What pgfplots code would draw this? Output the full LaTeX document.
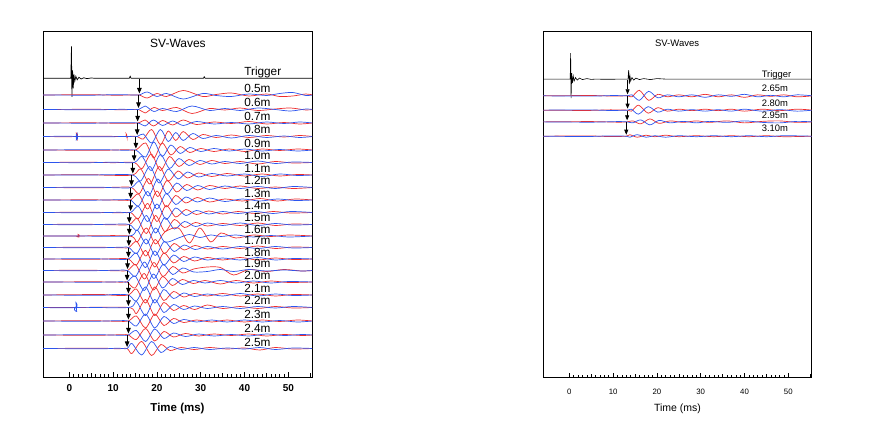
\documentclass[border=0pt]{standalone}
\usepackage{pgfplots}
\pgfplotsset{compat=1.18}
\usepackage{pgfplotstable}
\usepackage{fontspec}
\setmainfont{Liberation Sans}
\usetikzlibrary{arrows.meta}
\definecolor{cr}{RGB}{238,45,45}
\definecolor{cb}{RGB}{45,85,238}

% ---------------- left chart data (amplitudes in px, + = up) ----------------
\pgfplotstableread{
t y
-6 0
0.35 0
0.5 32
0.6 -18.5
0.75 8
0.9 -10
1.05 4
1.25 -3
1.5 2
1.8 -1.5
2.2 1
2.7 -0.7
3.3 0.5
4 -0.3
5 0.3
6 0
13.7 0
13.9 2
14.1 0
30.6 0
30.8 1.5
31 0
55.5 0
}\trigL

\pgfplotstableread{
t r b
-6 0 0
5 0.3 -0.2
10 -0.2 0.3
15.3 0 0
16.0 0 0
17.8 -3 3
20 1.5 -1.5
22.2 -1.5 1.5
26 4.5 -4
30.5 -1.5 1.5
33.5 0.5 -0.5
37 2 -1.5
41 -1 1
45 1 -0.5
48 -1.5 1.5
51 -1 2.5
54 1 -0.5
55.5 0 0
}\dA
\pgfplotstableread{
t r b
-6 0 0
6 0.2 -0.3
12 -0.3 0.2
15.8 0 0
17.3 -3.5 3.5
19.3 2 -2
21.3 -1 1
24.5 2 -2
28 -4 3.5
32 1 -1
35.5 -0.5 1
39 1.5 -1
43 -1 1.5
47 0.5 0
50.5 1.5 -1.5
54 -0.5 0.5
55.5 0 0
}\dB
\pgfplotstableread{
t r b
-6 0 0
5 0.2 -0.2
11 -0.3 0.3
15.6 0 0
17.3 3 -3
19.2 -3 3
21.3 2.5 -2.5
23.6 -2 2
26 3 -2.5
29 -1.5 1.5
33 1 -1
37 -0.5 0.5
41 1.5 -1
45 -1 1
49 0.5 -0.5
52.5 -1 1
55.5 0 0
}\dC
\pgfplotstableread{
t r b
-6 0 0
1.4 0 0
1.6 3.5 -3.5
1.8 -3 3
2.0 0 0
8 0.3 -0.3
12.8 0 0
13.0 2.5 -0.5
13.2 -1.5 0
13.4 0 0
15.5 0 0
16.9 -2.5 2.5
18.8 7 -6.5
20.8 -8 7
22.6 5.5 -5
24.3 -4 4
26 5 -4
28.2 -3 3
30.5 2 -2
33.5 -1 1
37 1.5 -1.5
41 -1 1
45 1 -1
49 -0.5 0.5
52.5 1 -1
55.5 0 0
}\dD
\pgfplotstableread{
t r b
-6 0 0
7 -0.3 0.3
13 0.3 -0.3
15.2 0 0
17.4 7 -7
19.3 -8 8
21.2 7 -6.5
23.2 -5 5
25.3 3.5 -3.5
27.5 -2.5 2.5
30 1.5 -1.5
33 -1.5 1.5
36.5 1 -1
40 -1.5 1
44 1 -1
48 -0.5 0.5
52 1 -1
55.5 0 0
}\dE
\pgfplotstableread{
t r b
-6 0 0
4 0.3 -0.2
10 -0.2 0.3
14.8 0 0
16.6 -6 6
18.7 8.5 -8
20.8 -8 8
22.9 6 -6
25 -4 4
27.3 3 -3
29.8 -2 2
32.5 2 -1.5
35.5 -1 1
39 1 -1
43 -1.5 1.5
47 1 -1
51 -0.5 0.5
55.5 0 0
}\dF
\pgfplotstableread{
t r b
-6 0 0
5 0.3 0
9 -0.3 0.3
14.5 0 0
16.3 6 -6
18.4 -9 8.5
20.5 8.5 -8
22.6 -6 6
24.8 4 -4
27 -3 3
29.5 2 -2
32.5 -1.5 1.5
36 1.5 -1
40 -1 1
44 1 -1.5
48 -1 1
52 0.5 -0.5
55.5 0 0
}\dG
\pgfplotstableread{
t r b
-6 0 0
6 -0.3 0.3
11 0.3 -0.3
14.2 0 0
16 -6 6
18.1 9 -8.5
20.2 -9 8.5
22.3 7 -6.5
24.5 -4.5 4.5
26.8 3 -3
29.3 -2.5 2
32 2 -2
35.5 -1 1.5
39 1.5 -1
43 -1 1
47 0.5 -1
51 -1 1
55.5 0 0
}\dH
\pgfplotstableread{
t r b
-6 0 0
5 0.2 -0.2
12 -0.2 0.3
14.0 0 0
15.8 6 -6
17.9 -9 8.5
20 9 -9
22.1 -7 6.5
24.3 4.5 -4.5
26.6 -3 3
29.2 2.5 -2
32 -2 2
35.5 1 -1.5
39.5 -1 1
43.5 1.5 -1
47.5 -1 1
51.5 1 -0.5
55.5 0 0
}\dI
\pgfplotstableread{
t r b
-6 0 0
4.5 0.3 -0.3
11.5 -0.3 0.2
14.0 0 0
15.8 -6 6
17.9 9 -9
20 -9 8.5
22.1 7 -7
24.3 -4.5 4.5
26.6 3 -3
29 -2 2
31.8 1.5 -1.5
35 -1.5 1
38.5 1 -1
42.5 -1 1
46.5 1 -1
50.5 -0.5 1
55.5 0 0
}\dJ
\pgfplotstableread{
t r b
-6 0 0
3 0.3 -0.3
10 -0.3 0.3
13.7 0 0
15.5 6 -6
17.6 -9 9
19.7 9 -8.5
21.8 -7 7
24 5 -4.5
26.3 -3 3
28.8 2 -2
31.5 -1.5 1.5
35 1 -1
39 -1 1.5
43 1.5 -1
47 -1 1
51 0.5 -0.5
55.5 0 0
}\dK
\pgfplotstableread{
t r b
-6 0 0
1.8 0 0
2.0 1.5 0
2.2 -1 0
2.4 0 0
13.7 0 0
15.5 -6 6
17.6 8 -8
19.7 -8 8
21.8 4 -6
24.9 8 -2
27.4 -7 1.5
29.8 8 -1.5
32.3 -6 1
34.6 3 -0.5
38 -2 1
42 1 -1
46 -0.5 0.5
50 1 -1
55.5 0 0
}\dL
\pgfplotstableread{
t r b
-6 0 0
6 0.3 -0.3
12 -0.3 0.3
13.6 0 0
15.4 6 -6
17.5 -8.5 8.5
19.6 8 -8
21.7 -6 6
23.9 4 -4
26.2 -2.5 2.5
28.7 2 -2
31.5 -1.5 1
35 1 -1.5
39 -1 1
43 1.5 -1
47 -1 1
51 0.5 -0.5
55.5 0 0
}\dM
\pgfplotstableread{
t r b
-6 0 0
5 -0.3 0.3
10.5 0.3 -0.3
13.5 0 0
15.3 -6 6
17.4 8.5 -8.5
19.5 -8 8
21.6 6 -6
23.8 -4 4
26.1 2.5 -2.5
28.6 -2 2
31.5 1.5 -1
35 -1 1
39 1.5 -1
43 -1 1.5
47 1 -1
51 -0.5 0.5
55.5 0 0
}\dN
\pgfplotstableread{
t r b
-6 0 0
4 0.3 -0.3
11 -0.3 0.3
13.3 0 0
15.1 6 -6
17.2 -8.5 8.5
19.3 8 -8
21.4 -6 6
23.6 4 -4
25.9 -2.5 2.5
28.4 1.5 -1.5
31.5 3.5 -1
34.5 3 1
37.5 -4.5 -1
41 1 1
45 -1 -0.5
49 1 0.5
53 -0.5 -0.5
55.5 0 0
}\dO
\pgfplotstableread{
t r b
-6 0 0
6 0.2 -0.2
12 -0.2 0.2
13.2 0 0
15 -6 6
17.1 8.5 -8.5
19.2 -8 8
21.3 5.5 -6
23.5 -3.5 3.5
25.8 2.5 -2.5
28.3 -1.5 1.5
31 1.5 -1
34.5 -2 1.5
38 1.5 -1
42 -1 1
46 1 -1
50 -0.5 0.5
55.5 0 0
}\dP
\pgfplotstableread{
t r b
-6 0 0
7 0.5 -0.3
10 -0.3 0.5
13.5 0 0
15.3 6 -6
17.4 -8 8
19.5 8 -8
21.6 -5.5 5.5
23.8 3.5 -3.5
26.1 -2 2
28.6 1.5 -1.5
31.5 -1 1
35 1.5 -1
39 -1 1.5
43 1 -1
47 -1 1
51 0.5 -0.5
55.5 0 0
}\dQ
\pgfplotstableread{
t r b
-6 0 0
1.3 0 0
1.5 0 5
1.7 0 -4
1.9 0 0
13.5 0 0
15.3 -6 6
17.4 8 -8
19.5 -8 8
21.6 5 -5
23.8 -3 3
26.1 2 -2
28.6 -2 1.5
31.5 2.5 -1
35 -1 1
39 1 -1
43 -1 1
47 1 -0.5
51 -0.5 1
55.5 0 0
}\dR
\pgfplotstableread{
t r b
-6 0 0
5 0.3 -0.3
11 -0.3 0.3
13.5 0 0
15.3 5 -5
17.4 -7 7
19.5 7 -7
21.6 -4.5 4.5
23.8 2.5 -2.5
26.1 -1.5 1.5
29 1 -1
32.5 -1 1
36 1 -1
40 -1 1
44 1 -1
48 -0.5 0.5
52 1 -1
55.5 0 0
}\dS
\pgfplotstableread{
t r b
-6 0 0
6 -0.3 0.3
12 0.3 -0.3
13.5 0 0
15.3 -4.5 4.5
17.4 6.5 -6.5
19.5 -6 6
21.6 3.5 -3.5
23.8 -2 2
26.5 1.5 -1.5
29.5 -1 1
33 1 -1
37 -0.5 0.5
41 1 -1
45 -1 1
49 0.5 -0.5
53 -0.5 0.5
55.5 0 0
}\dT
\pgfplotstableread{
t r b
-6 0 0
7 0.3 -0.3
11 -0.3 0.3
13.2 0 0
14.3 -5 5
16.5 7 -6.5
18.8 -7 7
20.9 4 -4
23 -2 2
25.5 1 -1
28.5 -1 1
32 1 -1
36 -0.5 0.5
40 0.5 -0.5
43.5 -1.5 1
47 1 -1
51 -0.5 0.5
55.5 0 0
}\dU

\pgfplotstableread{
x y v
16.0 -78.8 -14.7
15.8 -95.5 -12.5
15.6 -110 -11.5
15.5 -123.5 -11.5
15.2 -137 -11.5
14.8 -150.5 -10.5
14.5 -163 -10.5
14.2 -175.5 -10.5
14.0 -188 -10.5
14.0 -200.5 -10.5
13.7 -213 -10
13.7 -225 -9.5
13.6 -236.5 -9.5
13.5 -248 -9.5
13.3 -259.5 -9.5
13.2 -271 -9.5
13.5 -282.5 -11
13.5 -295.5 -10.5
13.5 -308 -11.5
13.5 -321.5 -12
13.2 -335.5 -11.5
}\arrL

% ---------------- right chart data ----------------
\pgfplotstableread{
t y
-6 0
0.2 0
0.3 26
0.4 -19
0.55 6
0.7 -4
0.9 3
1.1 -2
1.4 1.5
1.8 -1
2.3 1
3 -0.5
4 0.5
5 -0.3
6 0
8 -0.2
13.4 0
13.55 9
13.7 -5
13.85 3
14.0 -2
14.3 1.5
14.7 -1
15.2 1
16 -0.5
17 0.5
18.5 -0.5
20 0.5
22 0
55.5 0
}\trigR
\pgfplotstableread{
t r b
-6 0 0
5 0.3 -0.3
10 -0.3 0.3
13.3 0 0
14.3 -1 1
16.0 5.5 -4.5
18.1 -4.5 4.5
20.2 1.5 -2
22.4 -1 1
25 1 -1
28 -1 1
31 1.5 -1.5
34 -1 1
37 1 -0.5
40 -1.5 1.5
43 1 -1
46 -0.5 0.5
49 1 -1
52 -1 1
55.5 0 0
}\eA
\pgfplotstableread{
t r b
-6 0 0
4 -0.3 0.3
9 0.3 -0.3
13.3 0 0
14.2 -1 1
15.8 5 -4
18.0 -3 3.5
20.2 2.5 -2
22.4 -1 1
25 1 -1
28 -0.5 0.5
31 1 -1
34 -0.5 0.5
37 1 -1
40 -1 1
44 1 -1
48 -0.5 0.5
52 1 -1
55.5 0 0
}\eB
\pgfplotstableread{
t r b
-6 0 0
5 0.3 -0.3
11 -0.3 0.3
13.2 0 0
14.5 1 -1
16.3 -2 2
18.4 3 -3
20.5 -1.5 1.5
23 1 -1
26 -0.5 0.5
29 1 -1
32 -0.5 0.5
36 1 -0.5
40 -1 1
44 0.5 -0.5
48 1 -1
52 -0.5 0.5
55.5 0 0
}\eC
\pgfplotstableread{
t r b
-6 0 0
4 0.3 -0.3
9 -0.3 0.3
13.0 0 0
13.8 1.5 -1
15.5 -1 1.5
17.5 1 -1
19.5 -0.5 0.5
22 1 -1
25 -0.5 0.5
29 0.5 -0.5
33 -0.5 0.5
37 0.5 -0.5
41 -0.5 0.5
45 0.5 -0.5
49 -0.5 0.5
55.5 0 0
}\eD
\pgfplotstableread{
x y v
13.3 -79.5 -14.7
13.3 -96.2 -12.3
13.2 -110.5 -9.7
13.0 -122.2 -12.3
}\arrR

\newcommand{\tr}[2]{%
  \addplot[cr, smooth, line width=0.7bp] table[x=t, y expr=\thisrow{r}-#2] {#1};
  \addplot[cb, smooth, line width=0.7bp] table[x=t, y expr=\thisrow{b}-#2] {#1};
}

\pgfplotsset{
  wav/.style={
    scale only axis,
    anchor=south west,
    xmin=-6, xmax=55.4,
    ymin=-377, ymax=-31,
    axis line style={black, line width=0.7bp},
    xtick={0,10,...,50},
    minor x tick num=9,
    extra x ticks={5,15,25,35,45,55},
    extra x tick labels={},
    extra x tick style={major tick length=3.6bp},
    ytick=\empty,
    tick align=inside,
    xtick pos=bottom,
    major tick length=5bp,
    minor tick length=2.5bp,
    tick style={black, line width=0.5bp},
    /pgf/number format/assume math mode=true,
    clip=true,
  },
}

\begin{document}
\begin{tikzpicture}
\useasboundingbox (0,0) rectangle (879bp,428bp);

% ================= LEFT =================
\begin{axis}[wav,
  at={(43bp,51bp)}, width=269bp, height=346bp,
  xticklabel style={anchor=center, yshift=-10.7bp, font=\bfseries\fontsize{10bp}{12bp}\selectfont},
  xlabel={Time (ms)},
  xlabel style={at={(axis description cs:0.5,0)}, anchor=center, yshift=-31.3bp, font=\bfseries\fontsize{11.5bp}{13bp}\selectfont},
]
\addplot[black, line width=0.7bp] table[x=t, y expr=\thisrow{y}-78.3] {\trigL};
\tr{\dA}{95}
\tr{\dB}{109.5}
\tr{\dC}{123}
\tr{\dD}{136.5}
\tr{\dE}{150}
\tr{\dF}{162.5}
\tr{\dG}{175}
\tr{\dH}{187.5}
\tr{\dI}{200}
\tr{\dJ}{212.5}
\tr{\dK}{224.5}
\tr{\dL}{236}
\tr{\dM}{247.5}
\tr{\dN}{259}
\tr{\dO}{270.5}
\tr{\dP}{282}
\tr{\dQ}{295}
\tr{\dR}{307.5}
\tr{\dS}{321}
\tr{\dT}{335}
\tr{\dU}{348.5}
\addplot[black, line width=0.8bp, quiver={u=0, v=\thisrow{v}}, -{Triangle[length=5.5bp,width=4.5bp]}] table[x=x, y=y] {\arrL};

\node[font=\fontsize{12bp}{14bp}\selectfont] at (axis cs:24.8,-43) {SV-Waves};
\begin{scope}[every node/.style={anchor=base west, inner sep=0pt, font=\fontsize{11.8bp}{13bp}\selectfont}]
\node at (axis cs:39.9,-75.8) {Trigger};
\node at (axis cs:39.9,-92.5) {0.5m};
\node at (axis cs:39.9,-107) {0.6m};
\node at (axis cs:39.9,-120.5) {0.7m};
\node at (axis cs:39.9,-134) {0.8m};
\node at (axis cs:39.9,-147.5) {0.9m};
\node at (axis cs:39.9,-160) {1.0m};
\node at (axis cs:39.9,-172.5) {1.1m};
\node at (axis cs:39.9,-185) {1.2m};
\node at (axis cs:39.9,-197.5) {1.3m};
\node at (axis cs:39.9,-210) {1.4m};
\node at (axis cs:39.9,-222) {1.5m};
\node at (axis cs:39.9,-233.5) {1.6m};
\node at (axis cs:39.9,-245) {1.7m};
\node at (axis cs:39.9,-256.5) {1.8m};
\node at (axis cs:39.9,-268) {1.9m};
\node at (axis cs:39.9,-279.5) {2.0m};
\node at (axis cs:39.9,-292.5) {2.1m};
\node at (axis cs:39.9,-305) {2.2m};
\node at (axis cs:39.9,-318.5) {2.3m};
\node at (axis cs:39.9,-332.5) {2.4m};
\node at (axis cs:39.9,-346) {2.5m};
\end{scope}
\end{axis}

% ================= RIGHT =================
\begin{axis}[wav,
  at={(543.3bp,50.3bp)}, width=268.4bp, height=346.7bp,
  xmin=-5.94, xmax=55.34,
  xticklabel style={anchor=center, yshift=-14bp, font=\fontsize{7.8bp}{9bp}\selectfont},
  xlabel={Time (ms)},
  xlabel style={at={(axis description cs:0.5,0)}, anchor=center, yshift=-31.3bp, font=\fontsize{10.5bp}{12bp}\selectfont},
]
\addplot[black, line width=0.6bp] table[x=t, y expr=\thisrow{y}-79] {\trigR};
\tr{\eA}{95.7}
\tr{\eB}{110}
\tr{\eC}{121.7}
\tr{\eD}{136}
\addplot[black, line width=0.7bp, quiver={u=0, v=\thisrow{v}}, -{Triangle[length=5bp,width=4bp]}] table[x=x, y=y] {\arrR};

\node[font=\fontsize{9.5bp}{11bp}\selectfont] at (axis cs:24.6,-43) {SV-Waves};
\begin{scope}[every node/.style={anchor=base west, inner sep=0pt, font=\fontsize{9.4bp}{11bp}\selectfont}]
\node at (axis cs:43.9,-77.3) {Trigger};
\node at (axis cs:43.9,-91.7) {2.65m};
\node at (axis cs:43.9,-106) {2.80m};
\node at (axis cs:43.9,-118.3) {2.95m};
\node at (axis cs:43.9,-131.8) {3.10m};
\end{scope}
\end{axis}
\end{tikzpicture}
\end{document}
